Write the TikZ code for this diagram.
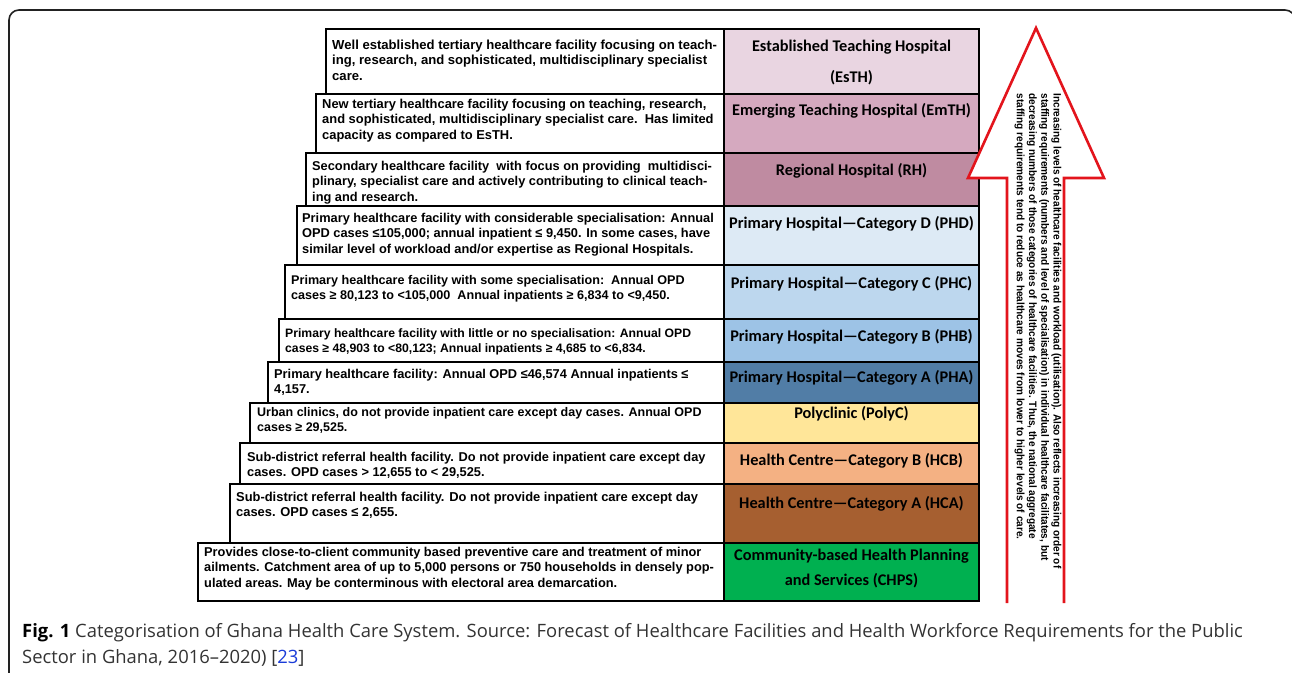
\documentclass[tikz,border=0pt]{standalone}
\usepackage{fontspec}
\setmainfont{Liberation Sans}
\newfontfamily\levelfont{Carlito}
\newfontfamily\capfont{Open Sans}
\newfontfamily\notefont[FakeStretch=0.94]{Liberation Sans}
\definecolor{cEsTH}{HTML}{E9D5E1}
\definecolor{cEmTH}{HTML}{D5A9BF}
\definecolor{cRH}{HTML}{BF8BA1}
\definecolor{cPHD}{HTML}{DDEAF5}
\definecolor{cPHC}{HTML}{BDD7EE}
\definecolor{cPHB}{HTML}{9DC3E6}
\definecolor{cPHA}{HTML}{517DA6}
\definecolor{cPolyC}{HTML}{FFE699}
\definecolor{cHCB}{HTML}{F4B183}
\definecolor{cHCA}{HTML}{A65F30}
\definecolor{cCHPS}{HTML}{00B050}
\definecolor{arrowred}{HTML}{E3141C}
\definecolor{framegray}{HTML}{222222}
\definecolor{captext}{HTML}{333333}
\definecolor{linkblue}{HTML}{1A3CD8}
\newcommand\descsize[1]{\fontsize{#1}{15.5}\selectfont}
\begin{document}
\begin{tikzpicture}[x=1pt,y=-1pt,
  box/.style={draw=black, line width=2.6pt},
  % anchored at the baseline of the last line
  desc/.style={anchor=base west, align=left, inner sep=0pt,
    font=\bfseries\descsize{12.8}},
  level/.style={anchor=center, align=center, inner sep=0pt,
    font=\levelfont\bfseries\fontsize{16.3}{31}\selectfont},
  note/.style={anchor=center, align=left, inner sep=0pt, rotate=-90,
    font=\notefont\bfseries\fontsize{10.7}{12.3}\selectfont},
]
\useasboundingbox (0,0) rectangle (1292,672);

% outer frame, open at the bottom
\draw[framegray, line width=1.6pt, rounded corners=10pt]
  (9,700) -- (9,10) -- (1295,10) -- (1295,700);

% coloured label column
\fill[cEsTH]  (724,29)  rectangle (979,94);
\fill[cEmTH]  (724,94)  rectangle (979,153);
\fill[cRH]    (724,153) rectangle (979,206);
\fill[cPHD]   (724,206) rectangle (979,265);
\fill[cPHC]   (724,265) rectangle (979,319);
\fill[cPHB]   (724,319) rectangle (979,362);
\fill[cPHA]   (724,362) rectangle (979,403);
\fill[cPolyC] (724,403) rectangle (979,443);
\fill[cHCB]   (724,443) rectangle (979,484);
\fill[cHCA]   (724,484) rectangle (979,543);
\fill[cCHPS]  (724,543) rectangle (979,601);

% description boxes, stepped to the left
\foreach \t/\b/\l in {29/94/326, 94/153/316, 153/206/306, 206/265/297,
    265/319/285, 319/362/279, 362/403/268, 403/443/250, 443/484/240,
    484/543/230, 543/601/198}{
  \draw[box] (\l,\t) rectangle (724,\b);
  \draw[box] (724,\t) rectangle (979,\b);
}

% descriptions
\node[desc, font=\bfseries\descsize{13.1}] (d1) at (332,80) {Well established tertiary healthcare facility focusing on teach-\\ing, research, and sophisticated, multidisciplinary specialist\\care.};
\node[desc, font=\bfseries\descsize{12.9}] (d2) at (322,139) {New tertiary healthcare facility focusing on teaching, research,\\and sophisticated, multidisciplinary specialist care.\ \ Has limited\\capacity as compared to EsTH.};
\node[desc] (d3) at (312,201) {Secondary healthcare facility\ \ with focus on providing\ \ multidisci-\\plinary, specialist care and actively contributing to clinical teach-\\ing and research.};
\node[desc] (d4) at (302,253) {Primary healthcare facility with considerable specialisation: Annual\\OPD cases ≤105,000; annual inpatient ≤ 9,450. In some cases, have\\similar level of workload and/or expertise as Regional Hospitals.};
\node[desc, font=\bfseries\descsize{12.6}] (d5) at (291,299.5) {Primary healthcare facility with some specialisation:\ \ Annual OPD\\cases ≥ 80,123 to <105,000\ \ Annual inpatients ≥ 6,834 to <9,450.};
\node[desc, font=\bfseries\descsize{12.2}] (d6) at (285,352.5) {Primary healthcare facility with little or no specialisation: Annual OPD\\cases ≥ 48,903 to <80,123; Annual inpatients ≥ 4,685 to <6,834.};
\node[desc] (d7) at (274,393.5) {Primary healthcare facility: Annual OPD ≤46,574 Annual inpatients ≤\\4,157.};
\node[desc, font=\bfseries\descsize{12.5}] (d8) at (257,431.5) {Urban clinics, do not provide inpatient care except day cases. Annual OPD\\cases ≥ 29,525.};
\node[desc] (d9) at (247,476.5) {Sub-district referral health facility. Do not provide inpatient care except day\\cases. OPD cases > 12,655 to < 29,525.};
\node[desc, font=\bfseries\descsize{12.9}] (d10) at (236,516.5) {Sub-district referral health facility. Do not provide inpatient care except day\\cases. OPD cases ≤ 2,655.};
\node[desc] (d11) at (204,587) {Provides close-to-client community based preventive care and treatment of minor\\ailments. Catchment area of up to 5,000 persons or 750 households in densely pop-\\ulated areas. May be conterminous with electoral area demarcation.};

% level names
\node[level] (esth)  at (851.5,62.5) {Established Teaching Hospital\\(EsTH)};
\node[level] (emth)  at (851.5,111) {Emerging Teaching Hospital (EmTH)};
\node[level] (rh)    at (851.5,171) {Regional Hospital (RH)};
\node[level] (phd)   at (851.5,224) {Primary Hospital—Category D (PHD)};
\node[level] (phc)   at (851.5,284) {Primary Hospital—Category C (PHC)};
\node[level] (phb)   at (851.5,337) {Primary Hospital—Category B (PHB)};
\node[level] (pha)   at (851.5,378) {Primary Hospital—Category A (PHA)};
\node[level] (polyc) at (851.5,414) {Polyclinic (PolyC)};
\node[level] (hcb)   at (851.5,461) {Health Centre—Category B (HCB)};
\node[level] (hca)   at (851.5,504) {Health Centre—Category A (HCA)};
\node[level, font=\levelfont\bfseries\fontsize{16.3}{25}\selectfont] (chps) at (851.5,568.5) {Community-based Health Planning\\and Services (CHPS)};

% upward arrow, open at its foot
\fill[white] (1036,28) -- (1104,178) -- (1064,178) -- (1064,603)
  -- (1007,603) -- (1007,178) -- (968,178) -- cycle;
\draw[arrowred, line width=2.6pt, line join=miter]
  (1064,603) -- (1064,178) -- (1104,178) -- (1036,28) -- (968,178)
  -- (1007,178) -- (1007,603);
\node[note] (trend) at (1038,331) {Increasing levels of healthcare facilities and workload (utilisation). Also reflects increasing order of\\staffing requirements (numbers and level of specialisation) in individual healthcare facilitates, but\\decreasing numbers of those categories of healthcare facilities. Thus, the national aggregate\\staffing requirements tend to reduce as healthcare moves from lower to higher levels of care.};

% caption (anchored at the baseline of its second line)
\node[anchor=base west, align=left, inner sep=0pt, text=captext,
  font=\capfont\fontsize{18.4}{26}\selectfont] (cap) at (22,663)
  {{\bfseries\color{black}Fig. 1} Categorisation of Ghana Health Care System. Source: Forecast of Healthcare Facilities and Health Workforce Requirements for the Public\\Sector in Ghana, 2016–2020) [\textcolor{linkblue}{23}]};
\end{tikzpicture}
\end{document}
